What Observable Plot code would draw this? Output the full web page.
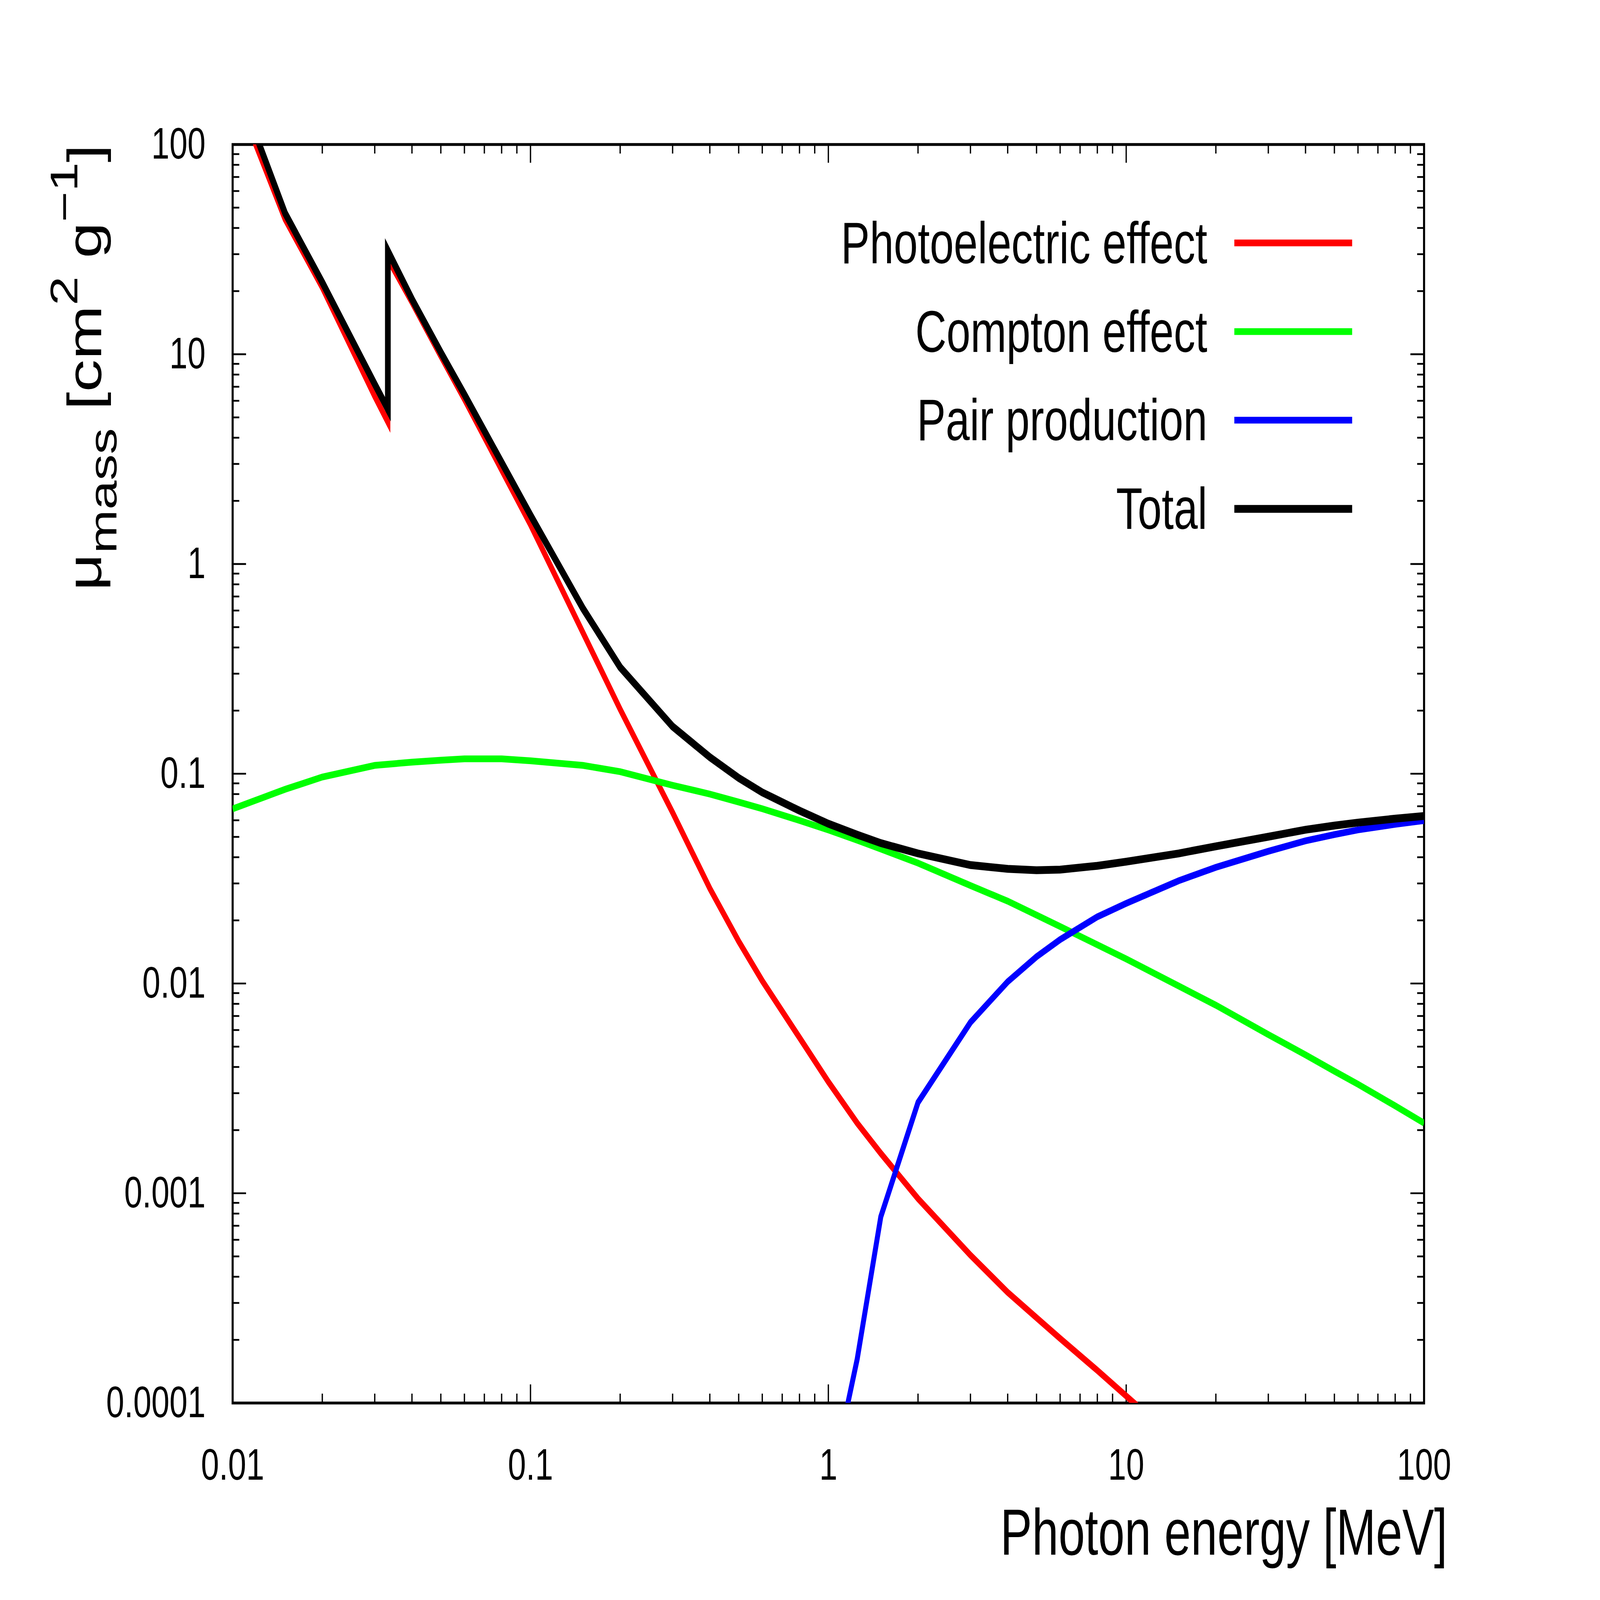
<!DOCTYPE html>
<html>
<head>
<meta charset="utf-8">
<script src="https://cdn.jsdelivr.net/npm/d3@7"></script>
<script src="https://cdn.jsdelivr.net/npm/@observablehq/plot@0.6"></script>
<style>
  html, body { margin: 0; padding: 0; background: white; overflow: hidden; }
  #chart svg { display: block; max-width: none !important; }
</style>
</head>
<body>
<div id="chart"></div>
<script>
// ---- tick labels ----
const xTicks = [0.01, 0.1, 1, 10, 100];
const xTickLabels = ["0.01", "0.1", "1", "10", "100"];
const yTicks = [0.0001, 0.001, 0.01, 0.1, 1, 10, 100];
const yTickLabels = ["0.0001", "0.001", "0.01", "0.1", "1", "10", "100"];

// ---- series (photon energy in MeV, mass attenuation in cm^2/g) ----
const seriesNames = ["Photoelectric effect", "Compton effect", "Pair production", "Total"];
const seriesColors = ["#ff0000", "#00ff00", "#0000ff", "#000000"];

const photoEnergy = [0.01, 0.015, 0.02, 0.03, 0.0332, 0.0332, 0.04, 0.05, 0.06, 0.08, 0.1, 0.15, 0.2, 0.3, 0.4, 0.5, 0.6, 0.8, 1, 1.25, 1.5, 2, 3, 4, 5, 6, 8, 10, 15];
const photoValues = [190, 44, 20.8, 6.3, 4.75, 28.5, 17.7, 9.8, 6.1, 2.81, 1.54, 0.471, 0.203, 0.0653, 0.0284, 0.0159, 0.0103, 0.00552, 0.0034, 0.00216, 0.00155, 0.000943, 0.000507, 0.000337, 0.000255, 0.000203, 0.000143, 0.000108, 0.000065];

const comptonEnergy = [0.01, 0.015, 0.02, 0.03, 0.04, 0.05, 0.06, 0.08, 0.1, 0.15, 0.2, 0.3, 0.4, 0.5, 0.6, 0.8, 1, 1.25, 1.5, 2, 3, 4, 5, 6, 8, 10, 15, 20, 30, 40, 50, 60, 80, 100];
const comptonValues = [0.068, 0.0843, 0.0965, 0.1096, 0.1136, 0.116, 0.1178, 0.1178, 0.1153, 0.1096, 0.1023, 0.0881, 0.08, 0.0733, 0.0681, 0.0599, 0.054, 0.0482, 0.0438, 0.0375, 0.0293, 0.0247, 0.0212, 0.0187, 0.0153, 0.0131, 0.00973, 0.00788, 0.00571, 0.00457, 0.00382, 0.00331, 0.00261, 0.00216];

const pairEnergy = [1.022, 1.25, 1.5, 2, 3, 4, 5, 6, 8, 10, 15, 20, 30, 40, 50, 60, 80, 100];
const pairValues = [0.000042, 0.000162, 0.000772, 0.00271, 0.00653, 0.0102, 0.01342, 0.0162, 0.0208, 0.0241, 0.0309, 0.0358, 0.0427, 0.0479, 0.0513, 0.054, 0.0574, 0.0598];

const totalEnergy = [0.01, 0.015, 0.02, 0.03, 0.0332, 0.0332, 0.04, 0.05, 0.06, 0.08, 0.1, 0.15, 0.2, 0.3, 0.4, 0.5, 0.6, 0.8, 1, 1.25, 1.5, 2, 3, 4, 5, 6, 8, 10, 15, 20, 30, 40, 50, 60, 80, 100];
const totalValues = [219, 47, 22.0, 7.2, 5.47, 31.1, 18.3, 10.2, 6.43, 3.05, 1.71, 0.614, 0.322, 0.168, 0.12, 0.0955, 0.0815, 0.0667, 0.0578, 0.0512, 0.0467, 0.0417, 0.0367, 0.0352, 0.0347, 0.0349, 0.0364, 0.0381, 0.0417, 0.0451, 0.0501, 0.0541, 0.0566, 0.0585, 0.0611, 0.0629];

// ---- layout (drawn in a 6152 x 4512 coordinate space, shown to fill the window) ----
const W = 6152, H = 4512;
const VW = window.innerWidth || W, VH = window.innerHeight || H;
const ML = 894, MR = 677, MT = 407, MB = 556;
const FW = W - ML - MR, FH = H - MT - MB;
const FONT = "'Liberation Sans', Arial, Helvetica, sans-serif";

const rows = (E, V) => E.map((e, i) => ({e, v: V[i]}));
const minorOf = (majors) => majors.slice(0, -1).flatMap(d => [2, 3, 4, 5, 6, 7, 8, 9].map(k => d * k));
const minorX = minorOf(xTicks);
const minorY = minorOf(yTicks);

const lineWidths = [19, 19, 19, 22];
const lineOpts = (i) => ({x: "e", y: "v", stroke: seriesColors[i], strokeWidth: lineWidths[i], clip: true,
  strokeLinejoin: "miter", strokeLinecap: "butt", strokeMiterlimit: 6});

const TW = 5, MAJ = 52, MIN = 26;

const chart = Plot.plot({
  width: W, height: H,
  marginLeft: ML, marginRight: MR, marginTop: MT, marginBottom: MB,
  style: {fontFamily: FONT, background: "white", color: "black", maxWidth: "none"},
  x: {type: "log", domain: [0.01, 100]},
  y: {type: "log", domain: [0.0001, 100]},
  marks: [
    // inward ticks on all four sides
    Plot.ruleX(xTicks, {x: d => d, insetBottom: FH - MAJ, strokeWidth: TW}),
    Plot.ruleX(xTicks, {x: d => d, insetTop: FH - MAJ, strokeWidth: TW}),
    Plot.ruleX(minorX, {x: d => d, insetBottom: FH - MIN, strokeWidth: TW}),
    Plot.ruleX(minorX, {x: d => d, insetTop: FH - MIN, strokeWidth: TW}),
    Plot.ruleY(yTicks, {y: d => d, insetRight: FW - MAJ, strokeWidth: TW}),
    Plot.ruleY(yTicks, {y: d => d, insetLeft: FW - MAJ, strokeWidth: TW}),
    Plot.ruleY(minorY, {y: d => d, insetRight: FW - MIN, strokeWidth: TW}),
    Plot.ruleY(minorY, {y: d => d, insetLeft: FW - MIN, strokeWidth: TW}),
    Plot.frame({stroke: "black", strokeWidth: 8}),
    Plot.axisX(xTicks, {anchor: "bottom", tickSize: 0, tickPadding: 127, fontSize: 125,
      tickFormat: d => xTickLabels[xTicks.indexOf(d)], label: null}),
    Plot.axisY(yTicks, {anchor: "left", tickSize: 0, tickPadding: 104, fontSize: 125,
      tickFormat: d => yTickLabels[yTicks.indexOf(d)], label: null}),
    Plot.line(rows(photoEnergy, photoValues), lineOpts(0)),
    Plot.line(rows(comptonEnergy, comptonValues), lineOpts(1)),
    Plot.line(rows(pairEnergy, pairValues), lineOpts(2)),
    Plot.line(rows(totalEnergy, totalValues), lineOpts(3))
  ]
});
chart.setAttribute("preserveAspectRatio", "none");
chart.style.width = VW + "px";
chart.style.height = VH + "px";

const svg = d3.select(chart);

// ---- legend ----
seriesNames.forEach((name, i) => {
  const y = 685 + i * 250;
  svg.append("line")
    .attr("x1", 4746).attr("x2", 5199).attr("y1", y).attr("y2", y)
    .attr("stroke", seriesColors[i]).attr("stroke-width", lineWidths[i]);
  svg.append("text")
    .attr("x", 4642).attr("y", y + 57)
    .attr("text-anchor", "end")
    .attr("font-size", 166).attr("fill", "black")
    .text(name);
});

// ---- x axis title ----
svg.append("text")
  .attr("x", 5565).attr("y", 4384)
  .attr("text-anchor", "end")
  .attr("font-size", 183).attr("fill", "black")
  .text("Photon energy [MeV]");

// ---- y axis title: μ_mass [cm^2 g^-1] ----
const yl = svg.append("text")
  .attr("transform", "translate(389,407) rotate(-90)")
  .attr("text-anchor", "end")
  .attr("font-size", 183).attr("fill", "black");
yl.append("tspan").text("μ");
yl.append("tspan").attr("font-size", 148).attr("dy", 58).text("mass");
yl.append("tspan").attr("dy", -58).text(" [cm");
yl.append("tspan").attr("font-size", 148).attr("dy", -92).text("2");
yl.append("tspan").attr("dy", 92).text(" g");
yl.append("tspan").attr("font-size", 148).attr("dy", -92).text("−1");
yl.append("tspan").attr("dy", 92).text("]");

document.getElementById("chart").appendChild(chart);
</script>
</body>
</html>
